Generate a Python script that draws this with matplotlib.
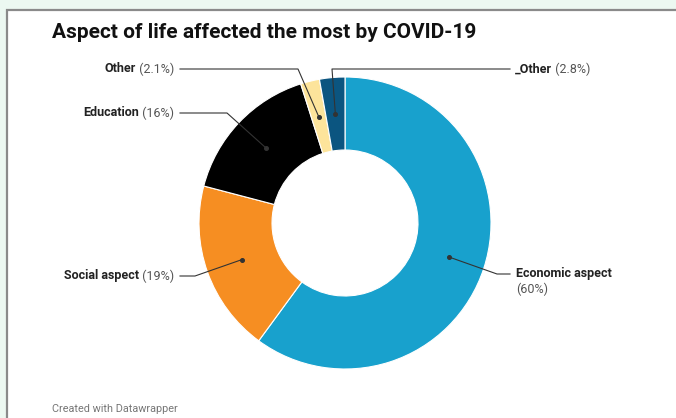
import matplotlib
matplotlib.use("Agg")
import matplotlib.pyplot as plt
from matplotlib.patches import Rectangle
import numpy as np

categories = ["Economic aspect", "Social aspect", "Education", "Other", "_Other"]
values = [60.0, 19.0, 16.0, 2.1, 2.8]
pct_labels = ["(60%)", "(19%)", "(16%)", "(2.1%)", "(2.8%)"]
colors = ["#18a1cd", "#f68e22", "#000000", "#fde49b", "#0b5580"]

W, H = 676, 418
fig = plt.figure(figsize=(W / 100, H / 100), dpi=100)
fig.patch.set_facecolor("#ecf8f1")

# background card
bg = fig.add_axes([0, 0, 1, 1])
bg.set_xlim(0, W)
bg.set_ylim(H, 0)
bg.axis("off")
bg.set_zorder(0)
bg.add_patch(Rectangle((7, 9.5), W + 20, H + 20, facecolor="white",
                       edgecolor="#8a8a8a", linewidth=1.6, zorder=0))

cx, cy, R = 345, 223, 146
ax = fig.add_axes([(cx - R) / W, (H - cy - R) / H, 2 * R / W, 2 * R / H])
ax.pie(values, colors=colors, startangle=90, counterclock=False,
       radius=1, wedgeprops=dict(width=0.5, edgecolor="white", linewidth=0.8))
ax.set_xlim(-1, 1)
ax.set_ylim(-1, 1)
ax.set_aspect("auto")
ax.axis("off")
ax.set_zorder(1)

# overlay in pixel coordinates
ov = fig.add_axes([0, 0, 1, 1])
ov.set_xlim(0, W)
ov.set_ylim(H, 0)
ov.axis("off")
ov.set_zorder(2)
ov.patch.set_alpha(0)

# dot positions from data
total = sum(values)
cum = np.cumsum([0] + values[:-1])
mids = (cum + np.array(values) / 2) / total * 2 * np.pi
dots = [(cx + 0.75 * R * np.sin(a), cy - 0.75 * R * np.cos(a)) for a in mids]

font = "Roboto"
fs = 9
lc = "#333333"

fig.canvas.draw()
renderer = fig.canvas.get_renderer()

def width_px(t):
    return t.get_window_extent(renderer).width

def left_label(name, pct, x_end, y):
    t2 = ov.text(x_end, y, " " + pct, ha="right", va="center", fontsize=fs,
                 family=font, color="#555555")
    w = width_px(t2)
    ov.text(x_end - w, y, name, ha="right", va="center", fontsize=fs,
            family=font, fontweight="bold", color="#222222")

def right_label(name, pct, x_start, y):
    t1 = ov.text(x_start, y, name, ha="left", va="center", fontsize=fs,
                 family=font, fontweight="bold", color="#222222")
    w = width_px(t1)
    ov.text(x_start + w, y, " " + pct, ha="left", va="center", fontsize=fs,
            family=font, color="#555555")

# Economic
d = dots[0]
ov.plot([d[0], 497, 510], [d[1], 274, 274], color=lc, lw=0.8)
ov.text(516, 274, categories[0], ha="left", va="center", fontsize=fs,
        family=font, fontweight="bold", color="#222222")
ov.text(516, 289, pct_labels[0], ha="left", va="center", fontsize=fs,
        family=font, color="#555555")
# Social
d = dots[1]
ov.plot([180, 195, d[0]], [276, 276, d[1]], color=lc, lw=0.8)
left_label(categories[1], pct_labels[1], 174, 276)
# Education
d = dots[2]
ov.plot([180, 227, d[0]], [113, 113, d[1]], color=lc, lw=0.8)
left_label(categories[2], pct_labels[2], 174, 113)
# Other
d = dots[3]
ov.plot([180, 298, d[0]], [69, 69, d[1]], color=lc, lw=0.8)
left_label(categories[3], pct_labels[3], 174, 69)
# _Other
d = dots[4]
ov.plot([510, 332, d[0]], [69, 69, d[1]], color=lc, lw=0.8)
right_label(categories[4], pct_labels[4], 515, 69)

for d in dots:
    ov.plot(d[0], d[1], "o", color="#333333", ms=2.6)

ov.text(52, 33, "Aspect of life affected the most by COVID-19", ha="left",
        va="center", fontsize=15, family=font, fontweight="bold", color="#111111")
ov.text(52, 409, "Created with Datawrapper", ha="left", va="center",
        fontsize=7.8, family=font, color="#777777")

fig.savefig("out.png", dpi=100, facecolor=fig.get_facecolor())
